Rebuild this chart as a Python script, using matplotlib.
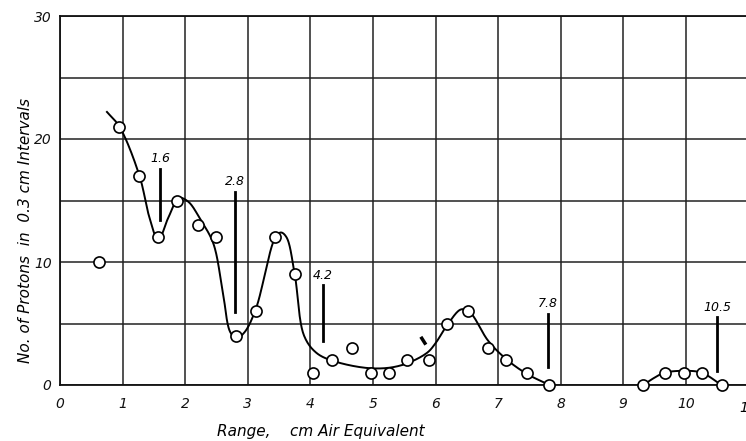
import numpy as np
import matplotlib
matplotlib.use('Agg')
import matplotlib.pyplot as plt

# measured points (range in cm, number of protons per 0.3 cm interval)
range_cm = [0.63, 0.95, 1.27, 1.57, 1.87, 2.2, 2.5, 2.81, 3.13, 3.44, 3.75,
            4.05, 4.35, 4.66, 4.97, 5.26, 5.54, 5.89, 6.19, 6.52, 6.84, 7.13,
            7.46, 7.82, 9.32, 9.66, 9.97, 10.25, 10.57]
protons = [10, 21, 17, 12, 15, 13, 12, 4, 6, 12, 9,
           1, 2, 3, 1, 1, 2, 2, 5, 6, 3, 2,
           1, 0, 0, 1, 1, 1, 0]

# hand drawn fitted curve (control points)
curve1_x = [0.75, 0.95, 1.27, 1.43, 1.57, 1.73, 1.9, 2.05, 2.25, 2.45,
            2.6, 2.72, 2.82, 2.95, 3.13, 3.44, 3.53, 3.62, 3.75, 3.9,
            4.1, 4.4, 5.0, 5.45, 5.86, 6.0, 6.19, 6.41, 6.55, 6.84, 7.13, 7.46, 7.82]
curve1_y = [22.2, 21.0, 17.0, 13.6, 11.8, 13.6, 15.2, 14.9, 13.4, 11.5,
            7.6, 4.3, 3.8, 4.3, 6.2, 12.0, 12.4, 12.0, 9.0, 4.0,
            2.6, 1.9, 1.35, 1.6, 2.6, 3.4, 4.9, 6.15, 5.9, 3.6, 2.1, 0.9, 0.0]
curve2_x = [9.32, 9.5, 9.66, 9.97, 10.25, 10.57]
curve2_y = [0.0, 0.6, 1.0, 1.15, 1.0, 0.0]

# marked ranges with label
mark_x = [1.6, 2.8, 4.2, 7.8, 10.5]
mark_labels = ['1.6', '2.8', '4.2', '7.8', '10.5']
mark_low = [13.4, 5.9, 3.6, 1.5, 1.1]
mark_high = [17.6, 15.7, 8.1, 5.8, 5.5]

YS = 12.3 / 62.5  # y unit relative to x unit on the page


def smooth(xs, ys, n=25, a=0.5):
    # centripetal catmull-rom through the points
    pts = np.column_stack([xs, np.array(ys) * YS]).astype(float)
    pts = np.vstack([2 * pts[0] - pts[1], pts, 2 * pts[-1] - pts[-2]])
    out = []
    for i in range(1, len(pts) - 2):
        p0, p1, p2, p3 = pts[i - 1], pts[i], pts[i + 1], pts[i + 2]
        t0 = 0.0
        t1 = t0 + np.linalg.norm(p1 - p0) ** a
        t2 = t1 + np.linalg.norm(p2 - p1) ** a
        t3 = t2 + np.linalg.norm(p3 - p2) ** a
        t = np.linspace(t1, t2, n, endpoint=False)[:, None]
        A1 = (t1 - t) / (t1 - t0) * p0 + (t - t0) / (t1 - t0) * p1
        A2 = (t2 - t) / (t2 - t1) * p1 + (t - t1) / (t2 - t1) * p2
        A3 = (t3 - t) / (t3 - t2) * p2 + (t - t2) / (t3 - t2) * p3
        B1 = (t2 - t) / (t2 - t0) * A1 + (t - t0) / (t2 - t0) * A2
        B2 = (t3 - t) / (t3 - t1) * A2 + (t - t1) / (t3 - t1) * A3
        out.append((t2 - t) / (t2 - t1) * B1 + (t - t1) / (t2 - t1) * B2)
    out.append(pts[-2][None, :])
    out = np.vstack(out)
    return out[:, 0], out[:, 1] / YS


plt.rcParams['font.family'] = ['DejaVu Sans']
plt.rcParams['font.style'] = 'italic'

fig = plt.figure(figsize=(7.46, 4.41), dpi=100)
ax = fig.add_axes([60 / 746, 56 / 441, 686 / 746, 369 / 441])
ax.set_xlim(0, 10.96)
ax.set_ylim(0, 30)

ax.set_xticks(range(0, 11))
ax.set_yticks([0, 10, 20, 30])
ax.set_yticks(range(0, 31, 5), minor=True)
ax.grid(True, which='both', color='#222222', linewidth=1.1)
ax.tick_params(which='both', length=0, labelsize=10, colors='#111111')
ax.tick_params(axis='x', pad=9)
ax.tick_params(axis='y', pad=6)
for s in ['left', 'bottom', 'top']:
    ax.spines[s].set_linewidth(1.3)
    ax.spines[s].set_color('#111111')
ax.spines['right'].set_visible(False)
ax.text(11, -1.85, '11', ha='center', va='center', fontsize=10, clip_on=False)

cx, cy = smooth(curve1_x, curve1_y)
ax.plot(cx, cy, color='black', linewidth=1.4, zorder=3)
cx, cy = smooth(curve2_x, curve2_y)
ax.plot(cx, cy, color='black', linewidth=1.4, zorder=3)

ax.plot(range_cm, protons, 'o', markersize=8, markerfacecolor='white',
        markeredgecolor='black', markeredgewidth=1.2, zorder=4, clip_on=False)

for x, lab, lo, hi in zip(mark_x, mark_labels, mark_low, mark_high):
    ax.plot([x, x], [lo, hi], color='black', linewidth=2, zorder=3)
    ax.text(x, hi + 0.3, lab, ha='center', va='bottom', fontsize=9)

ax.plot([5.78, 5.83], [3.8, 3.4], color='black', linewidth=2.5, zorder=3)

ax.set_xlabel('Range,    cm Air Equivalent', fontsize=11)
ax.set_ylabel('No. of Protons  in  0.3 cm Intervals', fontsize=11)
ax.xaxis.set_label_coords(261 / 686, -0.105)
ax.yaxis.set_label_coords(-0.04, 0.42)

fig.savefig('out.png', dpi=100)
